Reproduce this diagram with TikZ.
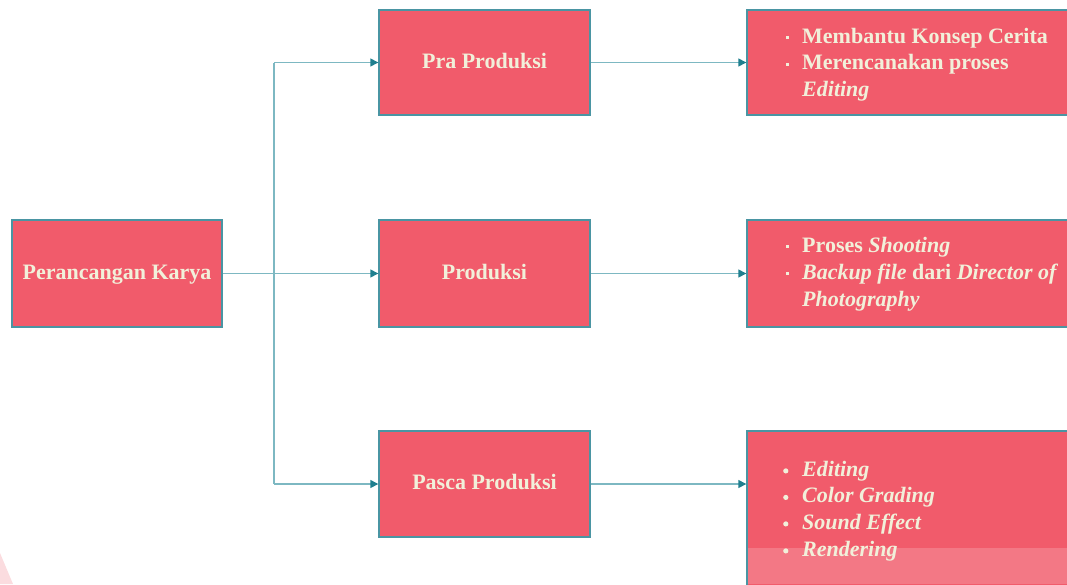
\documentclass[tikz,border=0pt]{standalone}
\usepackage{fontspec}
\setmainfont{Liberation Serif}
\usetikzlibrary{arrows.meta}
\definecolor{boxfill}{HTML}{F15B6B}
\definecolor{boxline}{HTML}{4A95A3}
\definecolor{txt}{HTML}{F1F0DA}
\definecolor{conn}{HTML}{7DB8C2}
\definecolor{tip}{HTML}{1F7F8F}
\definecolor{wmark}{HTML}{FBDCDF}
\newcommand{\sqb}{\makebox[16pt][l]{\raisebox{4pt}{\rule{2.6pt}{2.6pt}}}}
\newcommand{\rdb}{\makebox[19pt][l]{\raisebox{2.5pt}{\tikz\fill[txt] (0,0) circle (2.6pt);}}}
\begin{document}
\begin{tikzpicture}[x=1pt,y=-1pt,
  box/.style={draw=boxline,line width=1.4pt,fill=boxfill,text=txt,font=\fontsize{22}{27}\selectfont\bfseries,
    inner sep=0pt,text height=15pt,text depth=4pt,align=center},
  ln/.style={anchor=base west,inner sep=0pt,text=txt,font=\fontsize{22}{27}\selectfont\bfseries},
  conn/.style={draw=conn,line width=1.4pt},
  arr/.style={conn,-{Triangle[length=8pt,width=8pt,color=tip]}}]
\useasboundingbox (0,0) rectangle (1067,584);
\clip (0,0) rectangle (1067,584);
% boxes
\node[box,minimum width=210pt,minimum height=107pt] (karya) at (117,273.5) {Perancangan Karya};
\node[box,minimum width=211pt,minimum height=105pt] (pra) at (484.5,62.5) {Pra Produksi};
\node[box,minimum width=211pt,minimum height=107pt] (prod) at (484.5,273.5) {Produksi};
\node[box,minimum width=211pt,minimum height=106pt] (pasca) at (484.5,484) {Pasca Produksi};
\node[box,minimum width=340pt,minimum height=105pt] (r1) at (917,62.5) {};
\node[box,minimum width=340pt,minimum height=107pt] (r2) at (917,273.5) {};
\node[box,minimum width=340pt,minimum height=170pt] (r3) at (917,516) {};
% watermark
\fill[white,opacity=0.18] (748,548) rectangle (1067,584);
\fill[wmark] (0,553) -- (13,584) -- (0,584) -- cycle;
% connectors
\coordinate (trunk) at (274,273.5);
\draw[conn] (karya.east) -- (trunk);
\draw[conn] (trunk |- pra.west) -- (trunk |- pasca.west);
\draw[arr] (trunk) -- (prod.west);
\draw[arr] (trunk |- pra.west) -- (pra.west);
\draw[arr] (trunk |- pasca.west) -- (pasca.west);
\draw[arr] (pra.east) -- (r1.west);
\draw[arr] (prod.east) -- (r2.west);
\draw[arr] (pasca.east) -- (r3.west |- pasca.east);
% right box texts
\node[ln] (a1) at (786,43) {\sqb Membantu Konsep Cerita};
\node[ln] (a2) at (786,69.5) {\sqb Merencanakan proses};
\node[ln] (a3) at (802,96.5) {\textit{Editing}};
\node[ln] (b1) at (786,252) {\sqb Proses \textit{Shooting}};
\node[ln] (b2) at (786,279) {\sqb\textit{Backup file} dari \textit{Director of}};
\node[ln] (b3) at (802,306) {\textit{Photography}};
\node[ln] (c1) at (783,476) {\rdb\textit{Editing}};
\node[ln] (c2) at (783,502.5) {\rdb\textit{Color Grading}};
\node[ln] (c3) at (783,529) {\rdb\textit{Sound Effect}};
\node[ln] (c4) at (783,556) {\rdb\textit{Rendering}};
\end{tikzpicture}
\end{document}
